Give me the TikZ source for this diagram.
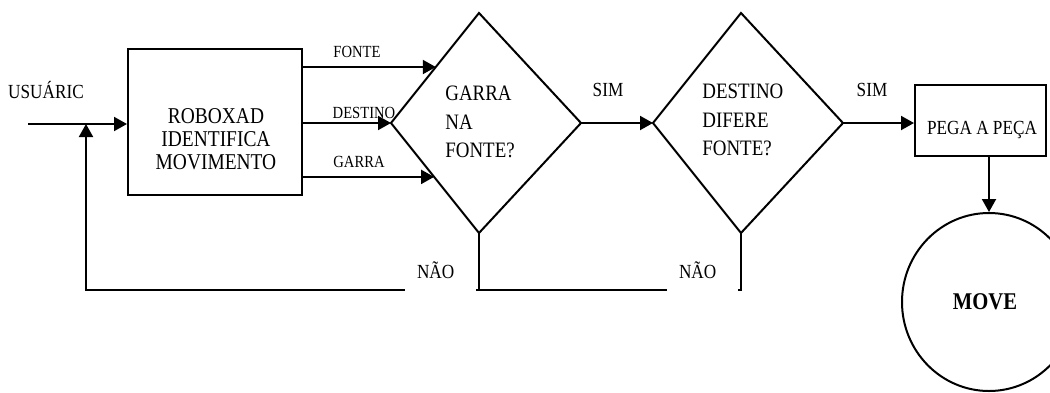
\documentclass[tikz,border=0pt]{standalone}
\usepackage{fontspec}
\setmainfont{Liberation Serif}[FakeStretch=0.86]
\usetikzlibrary{arrows.meta,shapes.geometric,calc}

\tikzset{
  fluxo/.style={line width=1pt},
  seta/.style={fluxo,-{Triangle[length=6.5pt,width=7pt]}},
  caixa/.style={draw,line width=1pt,inner sep=0pt},
  rotulo/.style={inner sep=0pt,font=\fontsize{8.5}{10}\selectfont},
  resposta/.style={inner sep=0pt,font=\fontsize{10}{12}\selectfont},
  pergunta/.style={inner sep=0pt,align=left,font=\fontsize{11}{14.25}\selectfont},
  nao/.style={fill=white,inner sep=0pt,outer sep=0pt,anchor=base west,
    text width=35.5pt,text depth=6.5pt,font=\fontsize{10}{12}\selectfont}
}

\begin{document}
\begin{tikzpicture}[x=0.5pt,y=-0.5pt]
  \clip (0,0) rectangle (1050,392);
  \fill[white] (0,0) rectangle (1050,392);

  % Caixa ROBOXAD
  \node[caixa,minimum width=87pt,minimum height=73pt] (robo) at (215,122) {};
  \node[inner sep=0pt,align=center,font=\fontsize{11.3}{11.5}\selectfont] (robotxt)
    at (216,139) {ROBOXAD\\IDENTIFICA\\MOVIMENTO};

  % Losango GARRA NA FONTE?
  \coordinate (d1l) at (391,123);
  \coordinate (d1t) at (479,13);
  \coordinate (d1r) at (581,123);
  \coordinate (d1b) at (479,233);
  \draw[fluxo,line join=miter] (d1l) -- (d1t) -- (d1r) -- (d1b) -- cycle;
  \node[pergunta,anchor=west] (garra) at (445,122) {GARRA\\NA\\FONTE?};

  % Losango DESTINO DIFERE FONTE?
  \coordinate (d2l) at (653,123);
  \coordinate (d2t) at (741,13);
  \coordinate (d2r) at (843,123);
  \coordinate (d2b) at (741,233);
  \draw[fluxo,line join=miter] (d2l) -- (d2t) -- (d2r) -- (d2b) -- cycle;
  \node[pergunta,anchor=west] (difere) at (702,120) {DESTINO\\DIFERE\\FONTE?};

  % Caixa PEGA A PECA e elipse MOVE
  \node[caixa,minimum width=65.5pt,minimum height=35.5pt] (pega) at (980.5,120.5) {};
  \node[inner sep=0pt,font=\fontsize{10}{12}\selectfont] (pegatxt) at (982,130) {PEGA A PEÇA};
  \node[draw,ellipse,line width=1pt,inner sep=0pt,minimum width=87pt,minimum height=89pt,
    font=\fontsize{12}{14}\bfseries] (move) at (989,302) {\hspace*{-4pt}MOVE};

  % Entrada do usuario
  \coordinate (usr) at (28,124);
  \coordinate (junta) at (86,124);
  \coordinate (retl) at (86,290);
  \draw[seta] (usr) -- (usr -| robo.west);
  \node[resposta] (usrtxt) at (46,90) {USUÁRIC};

  % Saidas da caixa ROBOXAD
  \coordinate (fon) at ($(d1l)!0.509!(d1t)$);
  \coordinate (gar) at ($(d1l)!0.49!(d1b)$);
  \draw[seta] (fon -| robo.east) -- (fon);
  \draw[seta] (d1l -| robo.east) -- (d1l);
  \draw[seta] (gar -| robo.east) -- (gar);
  \node[rotulo] (fontetxt) at (357,52) {FONTE};
  \node[rotulo] (destinotxt) at (364,113) {DESTINO};
  \node[rotulo] (garratxt) at (359,162) {GARRA};

  % Ramos SIM
  \draw[seta] (d1r) -- (d2l);
  \node[resposta] (sim1) at (608,90) {SIM};
  \draw[seta] (d2r) -- (d2r -| pega.west);
  \node[resposta] (sim2) at (872,90) {SIM};
  \draw[seta] (pega.south -| move.north) -- (move.north);

  % Ramos NAO (retorno)
  \draw[fluxo] (d1b) -- (d1b |- retl);
  \draw[seta] (d2b) -- (d2b |- retl) -- (retl) -- (junta);
  \node[nao] (nao1) at (405,278) {\hspace*{6pt}NÃO};
  \node[nao] (nao2) at (667,278) {\hspace*{6pt}NÃO};
\end{tikzpicture}
\end{document}
